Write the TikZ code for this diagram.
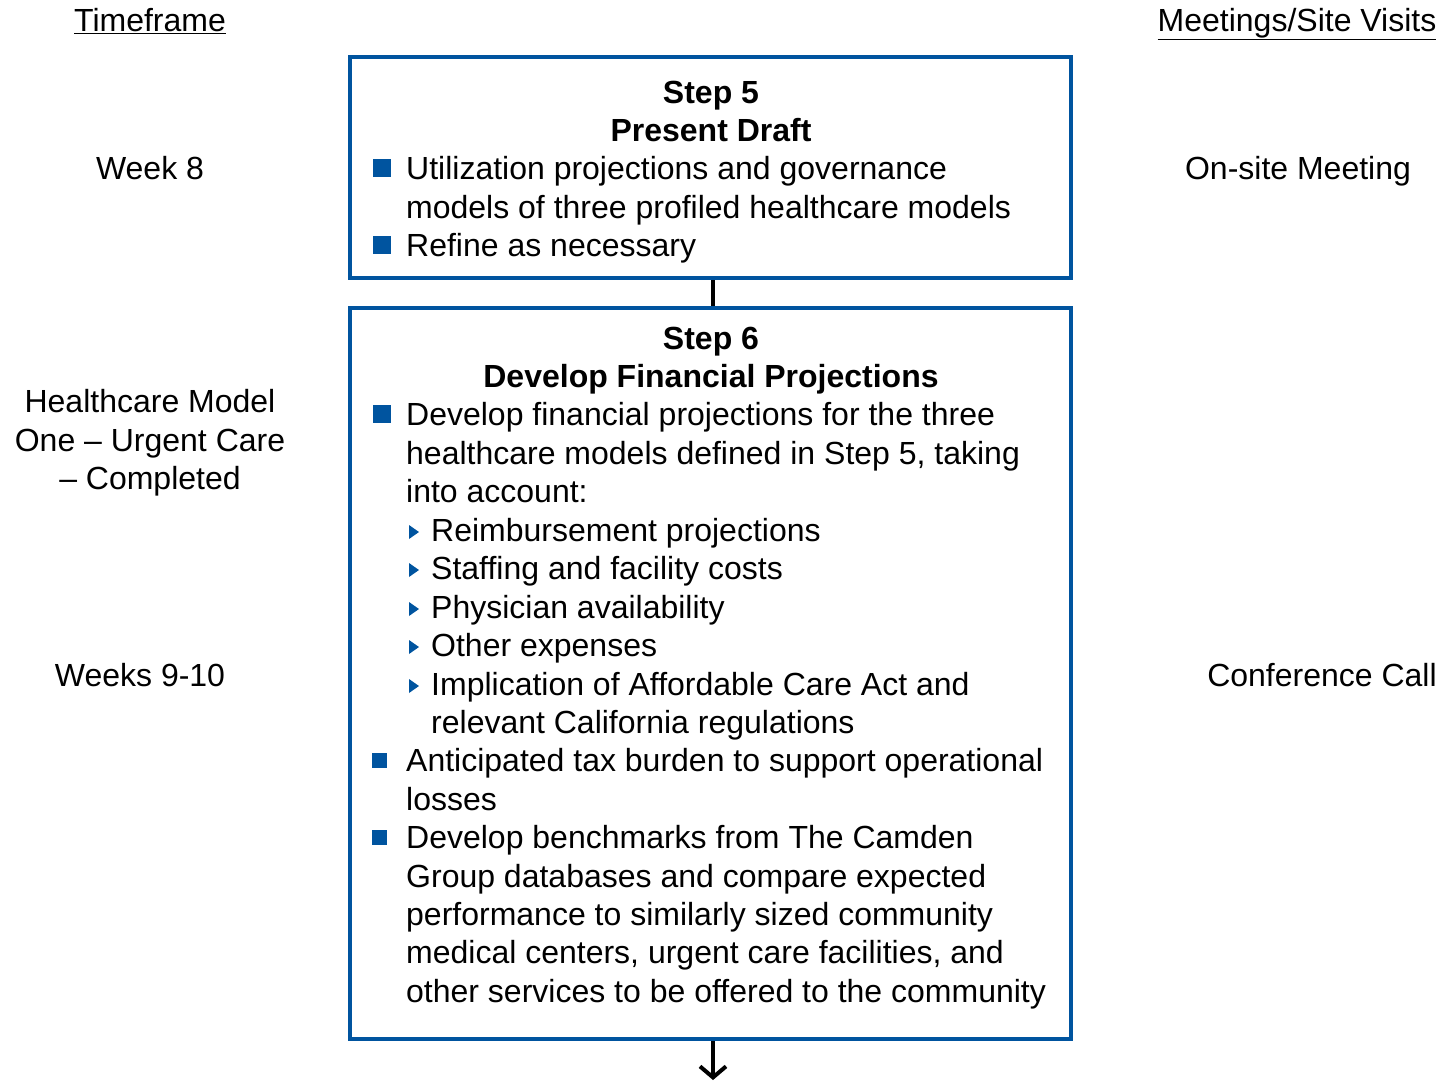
\documentclass[tikz,border=0pt]{standalone}
\usepackage{fontspec}
\setmainfont{Liberation Sans}
\usetikzlibrary{arrows.meta,calc}
\definecolor{boxblue}{RGB}{0,84,159}
\begin{document}
\begin{tikzpicture}[x=1pt,y=-1pt,
  txt/.style={inner sep=0pt,anchor=base west,font=\fontsize{32}{38.5}\selectfont},
  head/.style={inner sep=0pt,anchor=base,font=\fontsize{32}{38.5}\selectfont\bfseries},
  side/.style={inner sep=0pt,anchor=base,align=center,font=\fontsize{32}{38.5}\selectfont},
  stepbox/.style={draw=boxblue,line width=4pt,minimum width=721pt,inner sep=0pt},
  sq/.style={fill=boxblue,inner sep=0pt,minimum size=18pt},
  sqs/.style={fill=boxblue,inner sep=0pt,minimum size=15pt},
  conn/.style={line width=4pt,black}
]
\useasboundingbox (0,0) rectangle (1445,1082);
% boxes
\node[stepbox,minimum height=221pt] (box1) at (710.5,167.5) {};
\node[stepbox,minimum height=731pt] (box2) at (710.5,673.5) {};
\coordinate (ax) at (713,0);
\coordinate (aend) at (713,1080);
\draw[conn] (box1.south -| ax) -- (box2.north -| ax);
\draw[conn,-{Straight Barb[length=11pt,width=26pt,line width=4pt]}] (box2.south -| ax) -- (aend);
% side labels
\node[side] (tf) at (150,31) {\underline{Timeframe}};
\node[side] (ms) at (1297,31) {\underline{Meetings/Site Visits}};
\node[side] (w8) at (150,179) {Week 8};
\node[side] (osm) at (1298,179) {On-site Meeting};
\node[side] (hm1) at (150,412) {Healthcare Model};
\node[side] (hm2) at (150,451) {One -- Urgent Care};
\node[side] (hm3) at (150,489) {-- Completed};
\node[side] (w910) at (140,686) {Weeks 9-10};
\node[side] (cc) at (1322,686) {Conference Call};
% box 1 text
\node[head] (s5) at (711,103) {Step 5};
\node[head] (pd) at (711,141) {Present Draft};
\node[sq] (b1) at (382,167.5) {};
\node[txt] (t1a) at (406,179) {Utilization projections and governance};
\node[txt] (t1b) at (406,218) {models of three profiled healthcare models};
\node[sq] (b2) at (382,244.5) {};
\node[txt] (t2) at (406,256) {Refine as necessary};
% box 2 text
\node[head] (s6) at (711,349) {Step 6};
\node[head] (dfp) at (711,387) {Develop Financial Projections};
\node[sq] (b3) at (382,414) {};
\node[txt] (u1) at (406,425) {Develop financial projections for the three};
\node[txt] (u2) at (406,464) {healthcare models defined in Step 5, taking};
\node[txt] (u3) at (406,502) {into account:};
\foreach \y/\nm in {532/tr1,570/tr2,609/tr3,647/tr4,686/tr5}{
  \fill[boxblue] (409,\y-7) -- (419,\y) -- (409,\y+7) -- cycle;
  \coordinate (\nm) at (413,\y);
}
\node[txt] (v1) at (431,541) {Reimbursement projections};
\node[txt] (v2) at (431,579) {Staffing and facility costs};
\node[txt] (v3) at (431,618) {Physician availability};
\node[txt] (v4) at (431,656) {Other expenses};
\node[txt] (v5) at (431,695) {Implication of Affordable Care Act and};
\node[txt] (v6) at (431,733) {relevant California regulations};
\node[sqs] (b4) at (379.5,760.5) {};
\node[txt] (w1) at (406,771) {Anticipated tax burden to support operational};
\node[txt] (w2) at (406,810) {losses};
\node[sqs] (b5) at (379.5,837.5) {};
\node[txt] (x1) at (406,848) {Develop benchmarks from The Camden};
\node[txt] (x2) at (406,887) {Group databases and compare expected};
\node[txt] (x3) at (406,925) {performance to similarly sized community};
\node[txt] (x4) at (406,963) {medical centers, urgent care facilities, and};
\node[txt] (x5) at (406,1002) {other services to be offered to the community};
\end{tikzpicture}
\end{document}
